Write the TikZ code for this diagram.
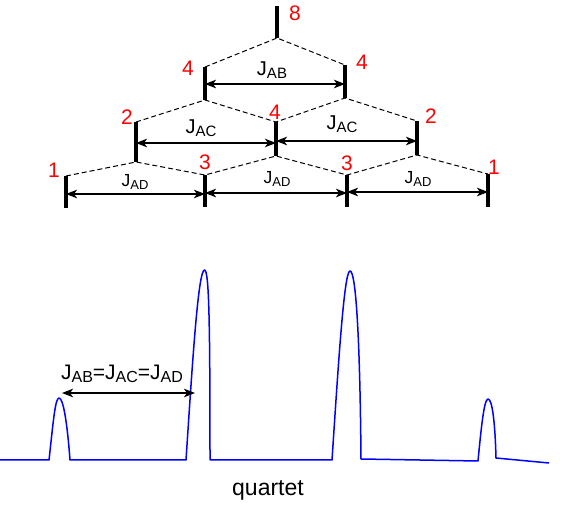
\documentclass[tikz,border=0pt]{standalone}
\usepackage{fontspec}
\setmainfont{Liberation Sans}
\usetikzlibrary{arrows.meta}
\newcommand\jsub[2]{\raisebox{-2.3pt}{\fontsize{#1}{#1}\selectfont #2}}
\begin{document}
\begin{tikzpicture}[x=1pt,y=-1pt,
  lvl/.style={line width=3.8pt},
  split/.style={line width=1pt, dash pattern=on 5pt off 3pt},
  jarrow/.style={{Stealth[length=11pt,width=8.5pt,inset=3pt]}-{Stealth[length=11pt,width=8.5pt,inset=3pt]}, line width=2pt},
  num/.style={text=red, font=\fontsize{21}{21}\selectfont, inner sep=0pt},
  jbig/.style={font=\fontsize{20}{20}\selectfont, inner sep=0pt, anchor=base},
  jsmall/.style={font=\fontsize{17.5}{17.5}\selectfont, inner sep=0pt, anchor=base},
  spec/.style={draw=blue, line width=1.5pt, line join=round}]
\useasboundingbox (0,0) rectangle (568,510);
% line coordinates
\coordinate (a1t) at (277,6);   \coordinate (a1b) at (277,38);
\coordinate (b1t) at (205,67);  \coordinate (b1b) at (205,100);
\coordinate (b2t) at (345,65);  \coordinate (b2b) at (345,98);
\coordinate (c1t) at (136,122); \coordinate (c1b) at (136,162);
\coordinate (c2t) at (276,122); \coordinate (c2b) at (276,156);
\coordinate (c3t) at (417,121); \coordinate (c3b) at (417,155);
\coordinate (d1t) at (66,176);  \coordinate (d1b) at (66,208);
\coordinate (d2t) at (205,175); \coordinate (d2b) at (205,207);
\coordinate (d3t) at (347,175); \coordinate (d3b) at (347,207);
\coordinate (d4t) at (488,174); \coordinate (d4b) at (488,207);
% vertical lines
\foreach \n in {a1,b1,b2,c1,c2,c3,d1,d2,d3,d4} \draw[lvl] (\n t) -- (\n b);
% dashed splitting
\draw[split] (b1t) -- (a1b) -- (b2t);
\draw[split] (c1t) -- (b1b) -- (c2t) -- (b2b) -- (c3t);
\draw[split] (d1t) -- (c1b) -- (d2t) -- (c2b) -- (d3t) -- (c3b) -- (d4t);
% coupling arrows
\coordinate (jab1) at (205,84);  \coordinate (jab2) at (345,84);
\coordinate (jac1) at (136,143); \coordinate (jac2) at (276,143);
\coordinate (jac3) at (276,141); \coordinate (jac4) at (417,141);
\coordinate (jad1) at (66,194);  \coordinate (jad2) at (205,194);
\coordinate (jad3) at (205,193); \coordinate (jad4) at (347,193);
\coordinate (jad5) at (347,192); \coordinate (jad6) at (488,192);
\draw[jarrow] (jab1) -- (jab2);
\draw[jarrow] (jac1) -- (jac2);
\draw[jarrow] (jac3) -- (jac4);
\draw[jarrow] (jad1) -- (jad2);
\draw[jarrow] (jad3) -- (jad4);
\draw[jarrow] (jad5) -- (jad6);
% labels
\node[jbig] (lab) at (272,76) {J\jsub{15}{AB}};
\node[jbig] (lac1) at (201,134) {J\jsub{15}{AC}};
\node[jbig] (lac2) at (342,130) {J\jsub{15}{AC}};
\node[jsmall] (lad1) at (135,187) {J\jsub{13}{AD}};
\node[jsmall] (lad2) at (277,184) {J\jsub{13}{AD}};
\node[jsmall] (lad3) at (418,184) {J\jsub{13}{AD}};
% intensities
\node[num] (n8) at (295,13) {8};
\node[num] (n4a) at (188,68) {4};
\node[num] (n4b) at (362,62) {4};
\node[num] (n2a) at (127,117) {2};
\node[num] (n4c) at (275,112) {4};
\node[num] (n2b) at (431,116) {2};
\node[num] (n1a) at (54,170) {1};
\node[num] (n3a) at (205,162) {3};
\node[num] (n3b) at (347,163) {3};
\node[num] (n1b) at (494,167) {1};
% spectrum
\draw[spec] (0,460) -- (49,460)
  .. controls (53,425) and (55,398) .. (59,398)
  .. controls (63,398) and (67,420) .. (70,460)
  -- (186,460)
  .. controls (192,370) and (198,270) .. (204.5,270)
  .. controls (209,270) and (210,320) .. (210,460)
  -- (332,460)
  .. controls (338,370) and (344,271) .. (350,271)
  .. controls (356,271) and (360,340) .. (361,459)
  -- (478,461)
  .. controls (481,430) and (484,399) .. (488,399)
  .. controls (492,399) and (495,420) .. (496,458)
  -- (549,463);
\coordinate (m1) at (62,393); \coordinate (m2) at (195,393);
\draw[jarrow] (m1) -- (m2);
\node[font=\fontsize{21}{21}\selectfont, inner sep=0pt, anchor=base] (eq) at (122,380)
  {J\jsub{16}{AB}=J\jsub{16}{AC}=J\jsub{16}{AD}};
\node[font=\fontsize{23}{23}\selectfont, inner sep=0pt, anchor=base] (q) at (268,496) {quartet};
\end{tikzpicture}
\end{document}
